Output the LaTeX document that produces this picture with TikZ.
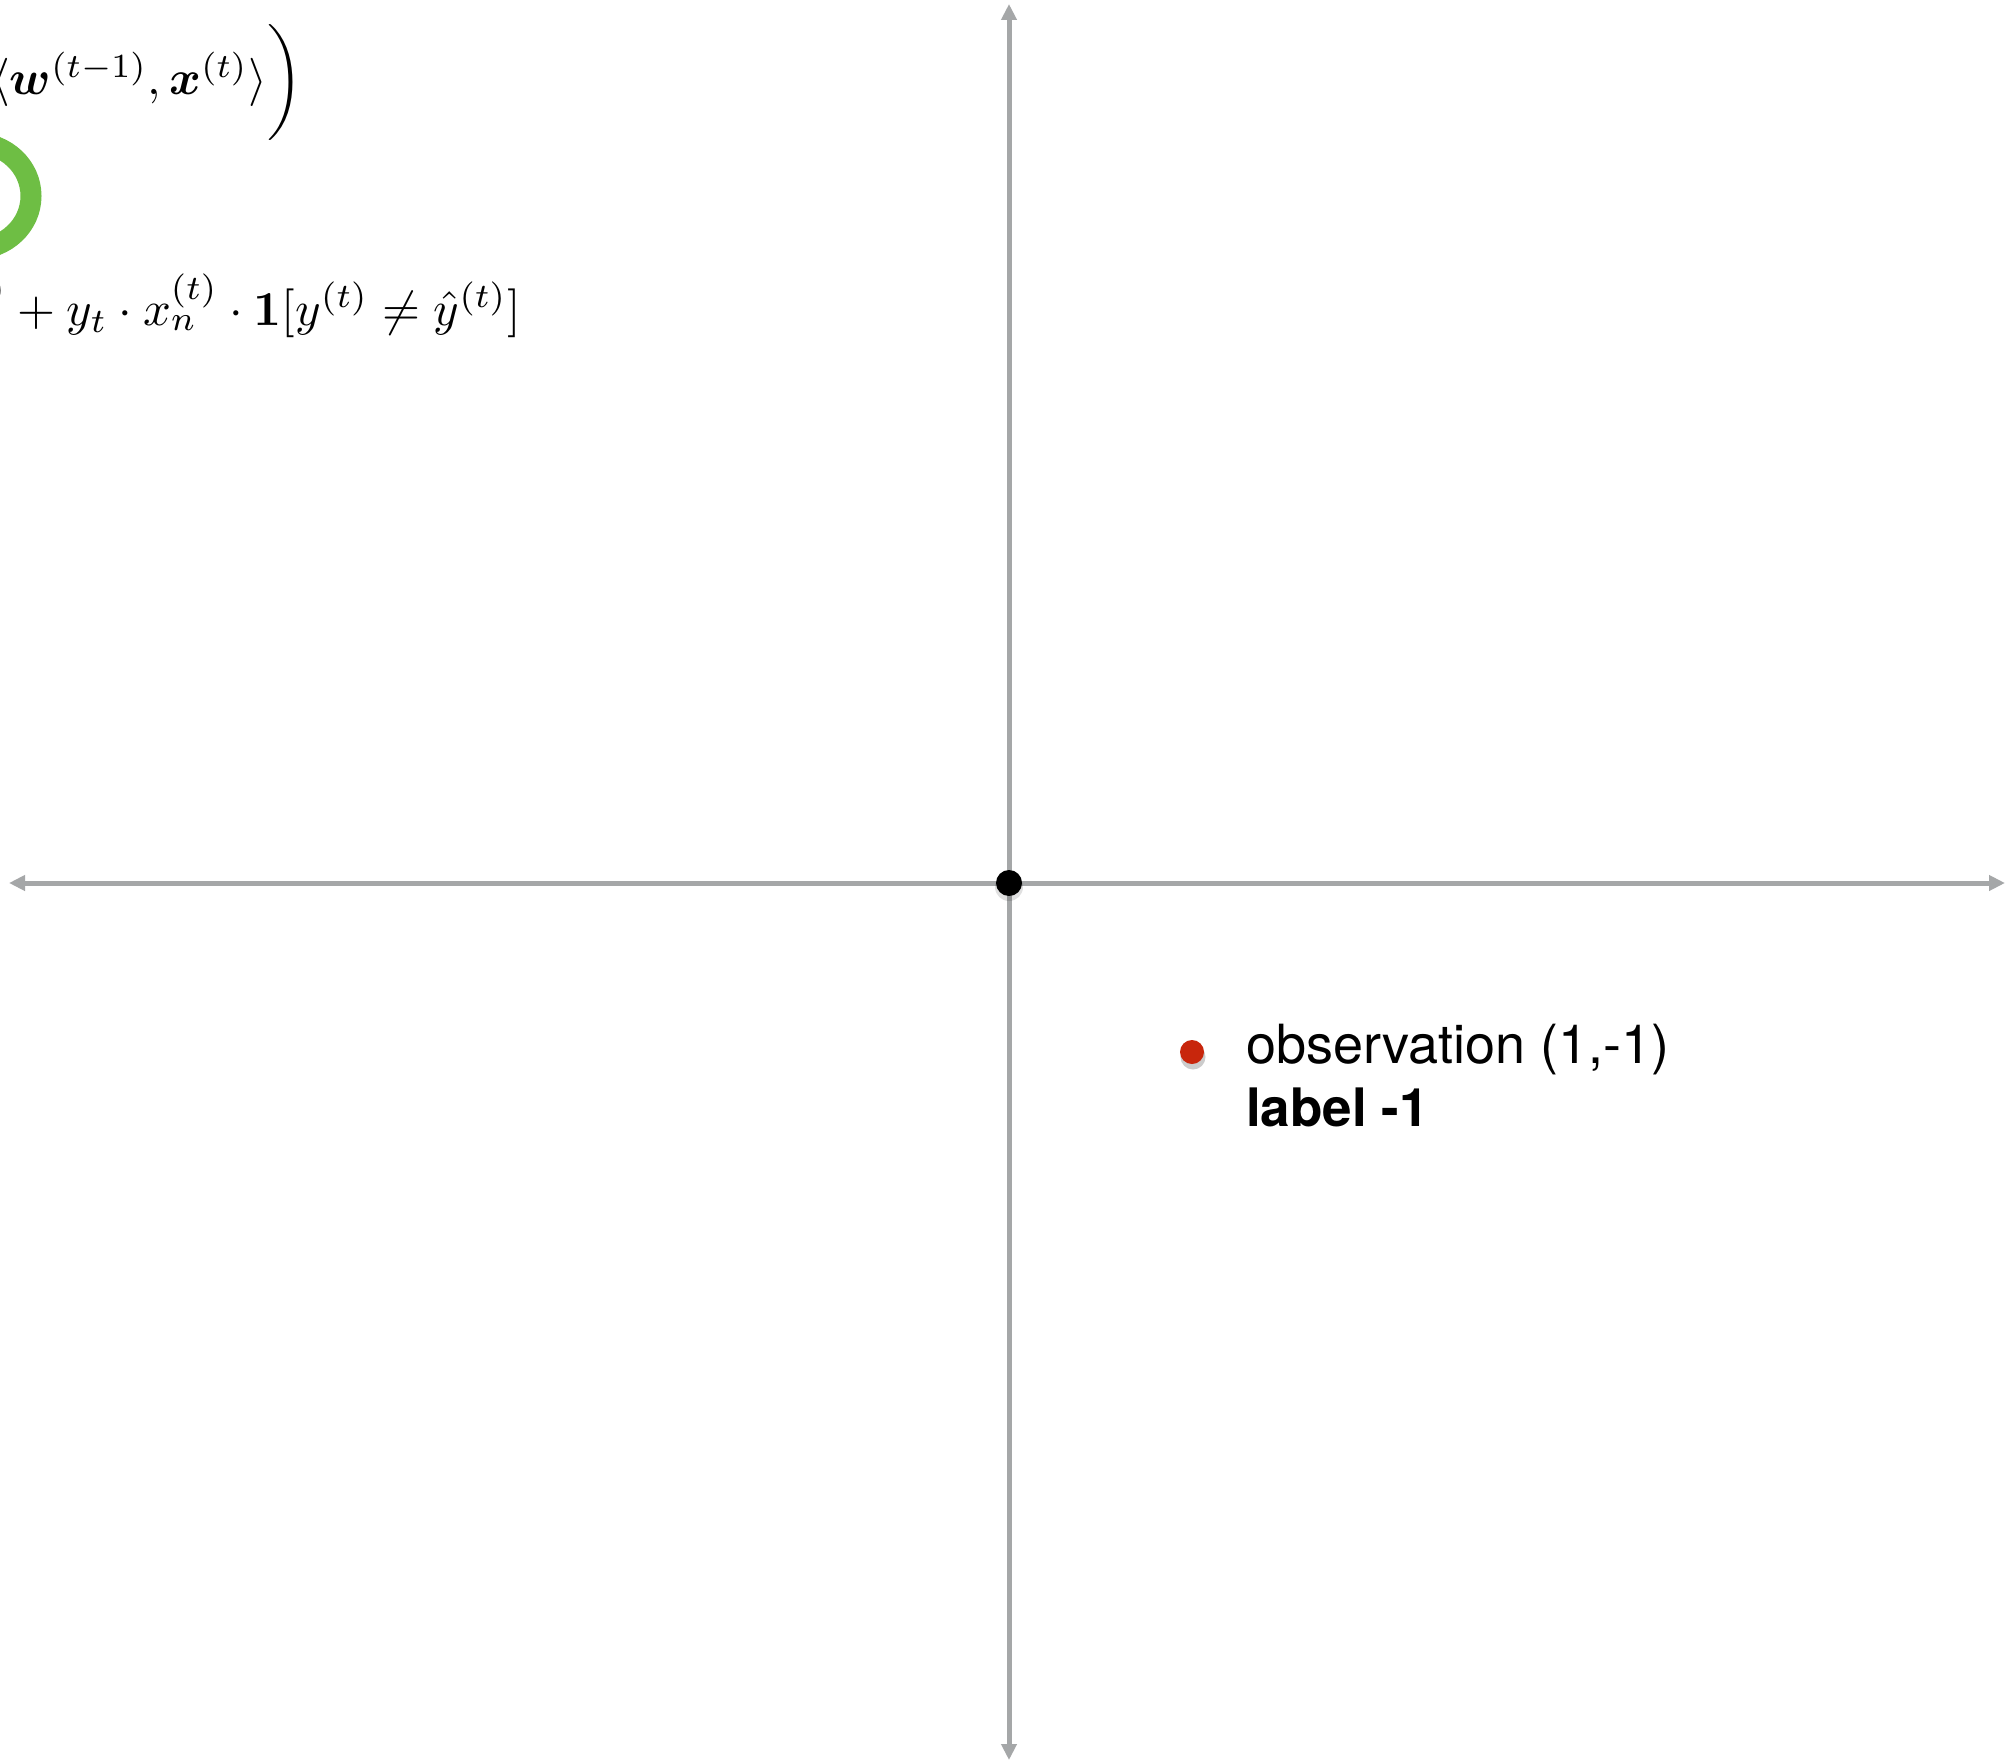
\documentclass[tikz,border=0pt]{standalone}
\usepackage{amsmath,amssymb}
\usepackage{bm}
\usepackage[no-math]{fontspec}
\setmainfont{TeX Gyre Heros}
\usetikzlibrary{arrows.meta}
\definecolor{axisgray}{RGB}{165,167,168}
\definecolor{obsred}{RGB}{200,38,12}
\definecolor{ringgreen}{RGB}{110,190,68}
\begin{document}
\begin{tikzpicture}[x=1pt,y=-1pt,
  axis/.style={draw=axisgray, line width=5pt, {Triangle[length=16pt,width=15pt]}-{Triangle[length=16pt,width=15pt]}},
  mathtxt/.style={inner sep=0pt, anchor=base east},
  lbl/.style={inner sep=0pt, anchor=base west, font=\fontsize{54}{64}\selectfont},
  dot/.style={circle, inner sep=0pt}]
\useasboundingbox (0,0) rectangle (2006,1763);
\clip (0,0) rectangle (2006,1763);
\fill[white] (0,0) rectangle (2006,1763);
% axes
\coordinate (xl) at (9,883);
\coordinate (xr) at (2005,883);
\coordinate (yt) at (1009,4);
\coordinate (yb) at (1009,1760);
\draw[axis] (xl) -- (xr);
\draw[axis] (yb) -- (yt);
% origin
\fill[black, opacity=0.12] (1009,887) circle (14pt);
\node[dot, fill=black, minimum size=26pt] (origin) at (1009,883) {};
% observation
\fill[black, opacity=0.2] (1193,1057) circle (12.5pt);
\node[dot, fill=obsred, minimum size=24pt] (obs) at (1192,1052) {};
\node[lbl] (obstext) at (1246,1063) {observation (1,-1)};
\node[lbl, font=\fontsize{53}{63}\selectfont\bfseries] (labeltext) at (1246,1126) {label -1};
% formulas (cropped at the left edge)
\node[mathtxt] (eq1) at (303,95) {\scalebox{4.83}{$\hat{y}^{(t)} = \operatorname{sign}\bigg(\langle \bm{w}^{(t-1)}, \bm{x}^{(t)} \rangle\bigg)$}};
\node[mathtxt] (eq3) at (521,325) {\scalebox{4.88}{$w_n^{(t)} = w_n^{(t-1)} + y_t \cdot x_n^{(t)} \cdot \mathbf{1}[y^{(t)} \neq \hat{y}^{(t)}]$}};
% green ring
\draw[ringgreen, line width=21pt] (-25,196) ellipse [x radius=56pt, y radius=53pt];
\end{tikzpicture}
\end{document}
